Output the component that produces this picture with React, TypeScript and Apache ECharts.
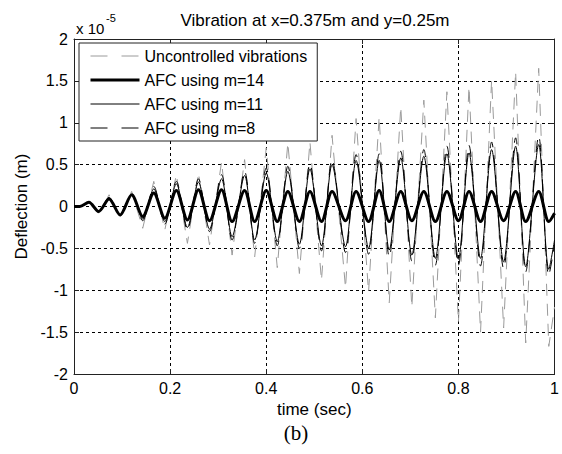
import React, { useEffect, useRef } from "react";
import * as echarts from "echarts";

// time (s) of each turning point
const extremaTimes = [
  0, 0.012, 0.031, 0.051, 0.073, 0.096, 0.12, 0.143, 0.166, 0.189, 0.213, 0.236,
  0.259, 0.282, 0.307, 0.329, 0.355, 0.376, 0.4, 0.423, 0.445, 0.469, 0.491,
  0.515, 0.537, 0.565, 0.587, 0.613, 0.635, 0.656, 0.68, 0.703, 0.728, 0.752,
  0.776, 0.8, 0.822, 0.846, 0.869, 0.894, 0.919, 0.94, 0.967, 0.988, 1.0,
];

// deflections in units of 1e-5 m
const uncontrolled = [
  0, 0, 0.04, -0.08, 0.14, -0.12, 0.18, -0.26, 0.3, -0.28, 0.38, -0.44, 0.4,
  -0.46, 0.53, -0.58, 0.56, -0.6, 0.7, -0.73, 0.76, -0.8, 0.77, -0.88, 0.85,
  -0.97, 1.05, -1.02, 1.07, -1.15, 1.19, -1.2, 1.27, -1.33, 1.37, -1.38, 1.43,
  -1.5, 1.51, -1.45, 1.61, -1.63, 1.65, -1.67, -1.2,
];
const afcM14 = [
  0, 0, 0.05, -0.06, 0.09, -0.1, 0.14, -0.12, 0.16, -0.14, 0.19, -0.16, 0.2,
  -0.17, 0.2, -0.18, 0.19, -0.18, 0.19, -0.18, 0.18, -0.18, 0.18, -0.18, 0.18,
  -0.17, 0.18, -0.18, 0.19, -0.18, 0.18, -0.17, 0.18, -0.18, 0.18, -0.17, 0.18,
  -0.18, 0.18, -0.17, 0.18, -0.18, 0.18, -0.18, -0.08,
];
const afcM11 = [
  0, 0, 0.05, -0.06, 0.1, -0.1, 0.14, -0.15, 0.21, -0.18, 0.27, -0.25, 0.29,
  -0.27, 0.33, -0.36, 0.37, -0.4, 0.4, -0.42, 0.42, -0.45, 0.45, -0.47, 0.5,
  -0.48, 0.55, -0.5, 0.55, -0.52, 0.58, -0.58, 0.6, -0.62, 0.63, -0.63, 0.64,
  -0.62, 0.68, -0.66, 0.72, -0.72, 0.74, -0.75, -0.4,
];
const afcM8 = [
  0, 0, 0.05, -0.06, 0.11, -0.11, 0.15, -0.17, 0.24, -0.21, 0.3, -0.28, 0.33,
  -0.3, 0.38, -0.4, 0.42, -0.44, 0.46, -0.47, 0.48, -0.5, 0.51, -0.53, 0.56,
  -0.55, 0.62, -0.57, 0.63, -0.6, 0.66, -0.65, 0.68, -0.7, 0.72, -0.7, 0.73,
  -0.71, 0.77, -0.74, 0.82, -0.78, 0.84, -0.82, -0.45,
];

const seriesNames = [
  "Uncontrolled vibrations",
  "AFC using m=14",
  "AFC using m=11",
  "AFC using m=8",
];

const FONT = "'Liberation Sans', Arial, sans-serif";

const GREY = "#9a9a9a";
const lineStyles = [
  { color: GREY, width: 1, type: [12, 8] as any },
  { color: "#000", width: 3, type: "solid" as any },
  { color: "#000", width: 1, type: "solid" as any },
  { color: "#000", width: 1, type: [12, 8] as any },
];
const legendDash = [17, 14];

export default function App() {
  const ref = useRef<HTMLDivElement>(null);

  useEffect(() => {
    if (!ref.current) return;
    const chart = echarts.init(ref.current, undefined, { renderer: "svg" });
    const pts = (vals: number[]) => extremaTimes.map((t, i) => [t, vals[i]]);
    const axisColor = "#222";
    const valueSets = [uncontrolled, afcM14, afcM11, afcM8];

    chart.setOption({
      animation: false,
      backgroundColor: "#fff",
      textStyle: { fontFamily: FONT },
      grid: { left: 74, top: 39, width: 482, height: 335, show: false },
      legend: {
        orient: "vertical",
        left: 79,
        top: 43,
        padding: [5, 10, 5, 10],
        itemWidth: 49,
        itemHeight: 14,
        itemGap: 8,
        backgroundColor: "#fff",
        borderColor: "#222",
        borderWidth: 1,
        borderRadius: 0,
        itemStyle: { opacity: 0 },
        textStyle: { fontFamily: FONT, fontSize: 16, color: "#000" },
        data: seriesNames.map((n, i) => ({
          name: n,
          itemStyle: { opacity: 0 },
          lineStyle: {
            ...lineStyles[i],
            type: Array.isArray(lineStyles[i].type) ? legendDash : "solid",
          },
        })),
      },
      xAxis: [
        {
          type: "value",
          min: 0,
          max: 1,
          interval: 0.2,
          name: "time (sec)",
          nameLocation: "middle",
          nameGap: 27,
          nameTextStyle: { fontFamily: FONT, fontSize: 17, color: "#000" },
          axisLine: { show: true, onZero: false, lineStyle: { color: axisColor, width: 1 } },
          axisTick: { show: true, inside: true, length: 5, lineStyle: { color: axisColor } },
          axisLabel: {
            fontFamily: FONT,
            fontSize: 16,
            color: "#000",
            margin: 6,
            formatter: (v: number) => String(Math.round(v * 10) / 10),
          },
          splitLine: { show: true, lineStyle: { color: "#000", type: [3, 3], width: 1 } },
        },
        {
          type: "value",
          position: "top",
          min: 0,
          max: 1,
          interval: 0.2,
          axisLine: { show: true, onZero: false, lineStyle: { color: axisColor, width: 1 } },
          axisTick: { show: true, inside: true, length: 5, lineStyle: { color: axisColor } },
          axisLabel: { show: false },
          splitLine: { show: false },
        },
      ],
      yAxis: [
        {
          type: "value",
          min: -2,
          max: 2,
          interval: 0.5,
          name: "Deflection (m)",
          nameLocation: "middle",
          nameRotate: 90,
          nameGap: 43,
          nameTextStyle: { fontFamily: FONT, fontSize: 17, color: "#000" },
          axisLine: { show: true, onZero: false, lineStyle: { color: axisColor, width: 1 } },
          axisTick: { show: true, inside: true, length: 5, lineStyle: { color: axisColor } },
          axisLabel: {
            fontFamily: FONT,
            fontSize: 16,
            color: "#000",
            margin: 6,
            formatter: (v: number) => String(v),
          },
          splitLine: { show: true, lineStyle: { color: "#000", type: [3, 3], width: 1 } },
        },
        {
          type: "value",
          position: "right",
          min: -2,
          max: 2,
          interval: 0.5,
          axisLine: { show: true, onZero: false, lineStyle: { color: axisColor, width: 1 } },
          axisTick: { show: true, inside: true, length: 5, lineStyle: { color: axisColor } },
          axisLabel: { show: false },
          splitLine: { show: false },
        },
      ],
      graphic: [
        {
          type: "text",
          x: 315,
          y: 20,
          style: {
            text: "Vibration at x=0.375m and y=0.25m",
            font: `17px ${FONT}`,
            fill: "#000",
            textAlign: "center",
            textVerticalAlign: "middle",
          },
        },
        {
          type: "text",
          x: 76,
          y: 28,
          style: {
            text: "x 10",
            font: `15px ${FONT}`,
            fill: "#000",
            textAlign: "left",
            textVerticalAlign: "middle",
          },
        },
        {
          type: "text",
          x: 106,
          y: 18,
          style: {
            text: "-5",
            font: `11px ${FONT}`,
            fill: "#000",
            textAlign: "left",
            textVerticalAlign: "middle",
          },
        },
        {
          type: "text",
          x: 296,
          y: 433,
          style: {
            text: "(b)",
            font: `21px 'Liberation Serif', 'Times New Roman', serif`,
            fill: "#000",
            textAlign: "center",
            textVerticalAlign: "middle",
          },
        },
      ],
      series: seriesNames.map((n, i) => ({
        name: n,
        type: "line",
        data: pts(valueSets[i]),
        showSymbol: false,
        symbol: "none",
        smooth: i === 0 ? 0 : 0.3,
        lineStyle: { ...lineStyles[i] },
        itemStyle: { color: lineStyles[i].color },
        z: [2, 5, 4, 3][i],
      })),
    });

    return () => chart.dispose();
  }, []);

  return (
    <div
      ref={ref}
      style={{
        position: "fixed",
        left: 0,
        top: 0,
        width: 562,
        height: 454,
        background: "#fff",
      }}
    />
  );
}
